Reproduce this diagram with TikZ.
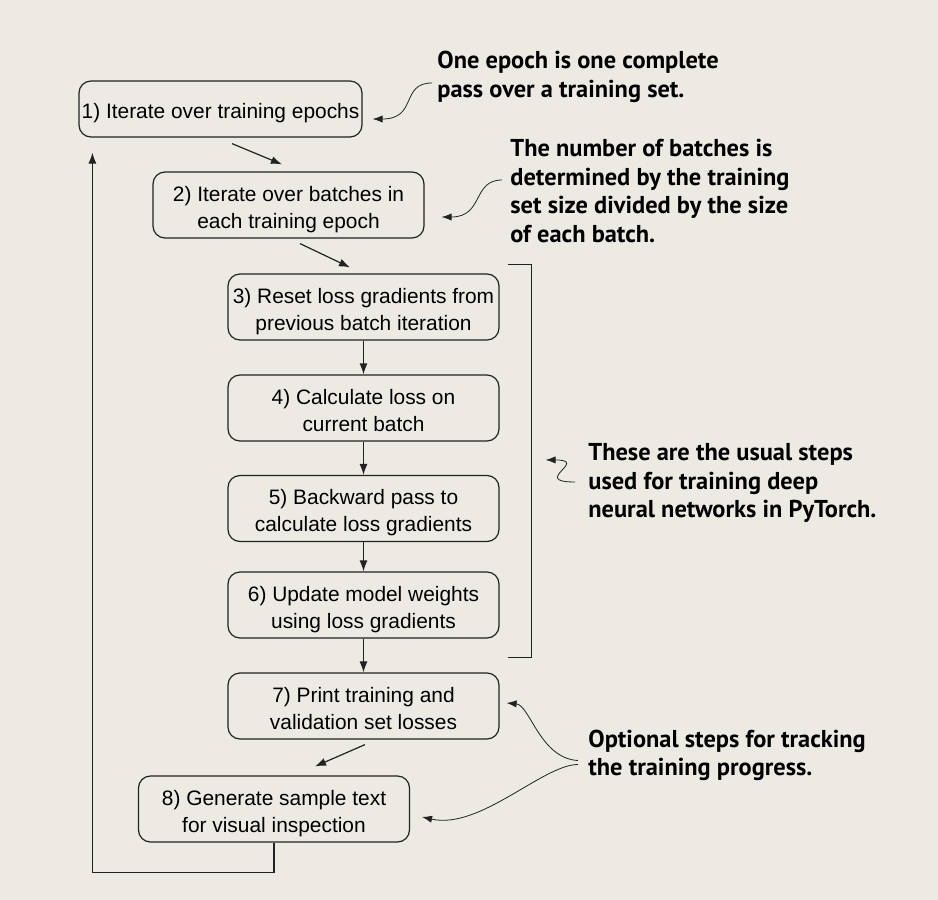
\documentclass[tikz,border=0pt]{standalone}
\usepackage{fontspec}
\setmainfont{Liberation Sans}
\newfontfamily\notefont{PT Sans}
\usepackage{xcolor}
\usetikzlibrary{arrows.meta}
\definecolor{PaperBg}{RGB}{237,234,227}
\definecolor{InkGray}{RGB}{34,34,34}

\begin{document}
\begin{tikzpicture}[
x=0.5pt,y=-0.5pt,
stepbox/.style={
draw=InkGray,
line width=0.6pt,
rounded corners=6pt,
minimum width=135.5pt,
minimum height=33pt,
inner sep=0pt,
text height=25pt,
text depth=1.6pt,
align=center,
font=\fontsize{10.45}{13.5}\selectfont
},
note/.style={
anchor=west,
align=left,
inner sep=0pt,
font=\notefont\bfseries\fontsize{12.2}{14.3}\selectfont
},
arrow/.style={-{Latex[length=5.5pt,width=4pt]},line width=0.6pt,draw=InkGray},
callout/.style={-{Latex[length=5pt,width=3.6pt]},line width=0.4pt,draw=InkGray}
]
\fill[PaperBg] (0,0) rectangle (938,900);
\useasboundingbox (0,0) rectangle (938,900);

% training steps
\node[stepbox,minimum width=141.5pt,minimum height=28pt,text height=11pt] (epochs) at (220.5,109) {1) Iterate over training epochs};
\node[stepbox] (batches) at (288.5,205) {2) Iterate over batches in\\each training epoch};
\node[stepbox] (reset) at (363.5,307) {3) Reset loss gradients from\\previous batch iteration};
\node[stepbox] (loss) at (363.5,408) {4) Calculate loss on\\current batch};
\node[stepbox] (backward) at (363.5,508.5) {5) Backward pass to\\calculate loss gradients};
\node[stepbox] (update) at (363.5,605) {6) Update model weights\\using loss gradients};
\node[stepbox] (print) at (363.5,706) {7) Print training and\\validation set losses};
\node[stepbox] (generate) at (274,809) {8) Generate sample text\\for visual inspection};

\draw[arrow] ([shift={(11.5,6)}]epochs.south) -- ([shift={(-6.5,-7)}]batches.north);
\draw[arrow] ([shift={(11.5,5)}]batches.south) -- ([shift={(-13.5,-6)}]reset.north);
\draw[arrow] (reset) -- (loss);
\draw[arrow] (loss) -- (backward);
\draw[arrow] (backward) -- (update);
\draw[arrow] (update) -- (print);
\draw[arrow] ([shift={(1.5,5)}]print.south) -- ([shift={(41,-9)}]generate.north);
\draw[arrow] (generate.south) -- ++(0,30) -| ([shift={(14,15)}]epochs.south west);

% bracket round steps 3 to 6
\coordinate (brtop) at ([shift={(8,-9)}]reset.north east);
\coordinate (brbot) at ([shift={(8,19)}]update.south east);
\draw[line width=0.6pt,InkGray] (brtop) -- ++(24,0) |- (brbot);
\coordinate (brmid) at ([shift={(31,0)}]brtop |- backward.north);

% notes
\node[note] (epochnote) at (437,77) {One epoch is one complete\\pass over a training set.};
\node[note] (batchnote) at (510,191) {The number of batches is\\determined by the training\\set size divided by the size\\of each batch.};
\node[note] (usualnote) at (588,483) {These are the usual steps\\used for training deep\\neural networks in PyTorch.};
\node[note] (optnote) at (588,755.5) {Optional steps for tracking\\the training progress.};

\draw[callout] ([shift={(-5,6)}]epochnote.west) .. controls +(-32,0) and (418,119) .. ([shift={(10,10)}]epochs.east);
\draw[callout] ([shift={(-8,-11)}]batchnote.west) .. controls +(-30,0) and (484,217) .. ([shift={(17,12)}]batches.east);
\draw[callout] ([shift={(-13,-1)}]usualnote.west) .. controls +(-45,0) and (590,460) .. ([shift={(7,-15)}]brmid);
\draw[callout] ([shift={(-10,5)}]optnote.west) .. controls +(-38,-2) and (530,705) .. ([shift={(7,-3)}]print.east);
\draw[callout] ([shift={(-10,9)}]optnote.west) .. controls +(-35,0) and (480,830) .. ([shift={(12,8)}]generate.east);
\end{tikzpicture}
\end{document}
